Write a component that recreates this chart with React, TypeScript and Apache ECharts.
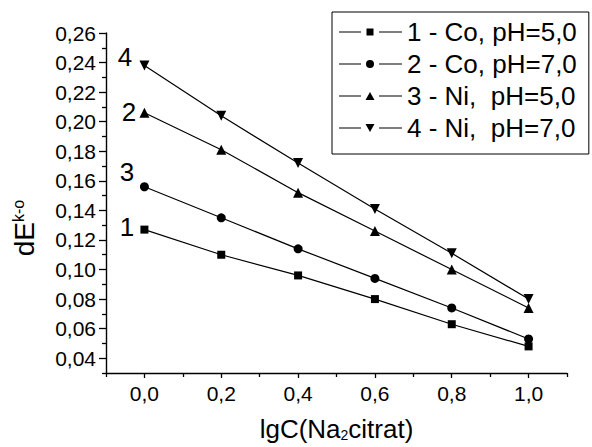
import React, { useEffect, useRef } from "react";
import * as echarts from "echarts";

const xValues = [0, 0.2, 0.4, 0.6, 0.8, 1.0];
const series1 = [0.127, 0.110, 0.096, 0.080, 0.063, 0.048];
const series2 = [0.156, 0.135, 0.114, 0.094, 0.074, 0.053];
const series3 = [0.206, 0.181, 0.152, 0.126, 0.100, 0.074];
const series4 = [0.238, 0.204, 0.172, 0.141, 0.111, 0.080];
const seriesNames = ["1 - Co, pH=5,0", "2 - Co, pH=7,0", "3 - Ni,  pH=5,0", "4 - Ni,  pH=7,0"];
const curveLabels = ["4", "2", "3", "1"];

const yMajorTicks = [0.04, 0.06, 0.08, 0.10, 0.12, 0.14, 0.16, 0.18, 0.20, 0.22, 0.24, 0.26];
const yMinorTicks = [0.03, 0.05, 0.07, 0.09, 0.11, 0.13, 0.15, 0.17, 0.19, 0.21, 0.23, 0.25];
const xMajorTicks = [0, 0.2, 0.4, 0.6, 0.8, 1.0];
const xMinorTicks = [-0.1, 0.1, 0.3, 0.5, 0.7, 0.9, 1.1];

const FONT = "'Liberation Sans', Arial, sans-serif";

const corners = "M0 0h0.01v0.01h-0.01Z M62.99 9.99h0.01v0.01h-0.01Z ";
const lines = "M0 4.5H22V5.5H0Z M40 4.5H63V5.5H40Z ";
const icons = [
  "path://" + corners + lines + "M27.5 1.5H34.5V8.5H27.5Z",
  "path://" + corners + lines + "M35 5A4 4 0 1 1 27 5A4 4 0 1 1 35 5Z",
  "path://" + corners + lines + "M31 1L35.5 9H26.5Z",
  "path://" + corners + lines + "M26.5 1H35.5L31 9Z",
];

export default function App() {
  const ref = useRef<HTMLDivElement>(null);
  useEffect(() => {
    if (!ref.current) return;
    const chart = echarts.init(ref.current, null, { renderer: "svg" });
    const fmt = (d: number) => (v: number) => v.toFixed(d).replace(".", ",");
    const allSeries = [series1, series2, series3, series4];
    const symbols = ["rect", "circle", "triangle", "triangle"];
    const sizes = [8, 9, 10, 10];
    const rotates = [0, 0, 0, 180];
    const axisCommon = {
      axisLine: { show: true, onZero: false, lineStyle: { color: "#000", width: 1.4 } },
      splitLine: { show: false },
    };
    chart.setOption({
      animation: false,
      backgroundColor: "#fff",
      grid: { left: 106, top: 33, right: 25, bottom: 74, containLabel: false, outerBoundsMode: "none" },
      xAxis: [
        {
          type: "value",
          min: -0.1,
          max: 1.1,
          position: "bottom",
          ...axisCommon,
          axisTick: { show: true, customValues: xMajorTicks, length: 5, lineStyle: { color: "#000", width: 1.3 } },
          axisLabel: { customValues: xMajorTicks, formatter: fmt(1), fontSize: 21, color: "#000", fontFamily: FONT, margin: 10 },
          name: "{a|lgC(Na}{s|2}{a|citrat)}",
          nameLocation: "middle",
          nameGap: 43,
          nameTextStyle: {
            rich: {
              a: { fontSize: 26, fontFamily: FONT, color: "#000" },
              s: { fontSize: 14, fontFamily: FONT, color: "#000", verticalAlign: "bottom", padding: [12, 0, 0, 0] },
            },
          },
        },
        {
          type: "value",
          min: -0.1,
          max: 1.1,
          position: "bottom",
          axisLine: { show: false, onZero: false },
          splitLine: { show: false },
          axisTick: { show: true, customValues: xMinorTicks, length: 4, lineStyle: { color: "#000", width: 1.3 } },
          axisLabel: { show: false },
        },
      ],
      yAxis: [
        {
          type: "value",
          min: 0.03,
          max: 0.26,
          position: "left",
          ...axisCommon,
          axisTick: { show: true, customValues: yMajorTicks, length: 7, lineStyle: { color: "#000", width: 1.3 } },
          axisLabel: { customValues: yMajorTicks, formatter: fmt(2), fontSize: 21, color: "#000", fontFamily: FONT, margin: 10 },
        },
        {
          type: "value",
          min: 0.03,
          max: 0.26,
          position: "left",
          axisLine: { show: false, onZero: false },
          splitLine: { show: false },
          axisTick: { show: true, customValues: yMinorTicks, length: 4, lineStyle: { color: "#000", width: 1.3 } },
          axisLabel: { show: false },
        },
      ],
      legend: {
        orient: "vertical",
        left: 332,
        top: 12,
        padding: [7, 12, 13, 7],
        borderColor: "#000",
        borderWidth: 1,
        itemWidth: 63,
        itemHeight: 10,
        itemGap: 6,
        textStyle: { fontSize: 26, fontFamily: FONT, color: "#000", lineHeight: 26 },
        data: seriesNames.map((n, i) => ({ name: n, icon: icons[i] })),
      },
      series: allSeries.map((vals, i) => ({
        name: seriesNames[i],
        type: "line",
        data: xValues.map((x, j) => [x, vals[j]]),
        symbol: symbols[i],
        symbolSize: sizes[i],
        symbolRotate: rotates[i],
        showSymbol: true,
        lineStyle: { color: "#000", width: 1.2 },
        itemStyle: { color: "#000" },
        color: "#000",
      })),
      graphic: [
        {
          type: "text",
          x: 24,
          y: 228,
          rotation: Math.PI / 2,
          style: {
            text: "{a|dE}{b|k-o}",
            align: "center",
            verticalAlign: "middle",
            rich: {
              a: { fontSize: 28, fontFamily: FONT, fill: "#000" },
              b: { fontSize: 16, fontFamily: FONT, fill: "#000", verticalAlign: "top" },
            },
          },
        },
        ...curveLabels.map((t, i) => ({
          type: "text",
          x: [125, 129, 127, 127][i],
          y: [57, 112, 172, 227][i],
          style: { text: t, fontSize: 26, fontFamily: FONT, fill: "#000", align: "center", verticalAlign: "middle" },
        })),
      ],
    });
    return () => chart.dispose();
  }, []);
  return (
    <div
      ref={ref}
      style={{ position: "fixed", left: 0, top: 0, width: 592, height: 447, background: "#fff" }}
    />
  );
}
